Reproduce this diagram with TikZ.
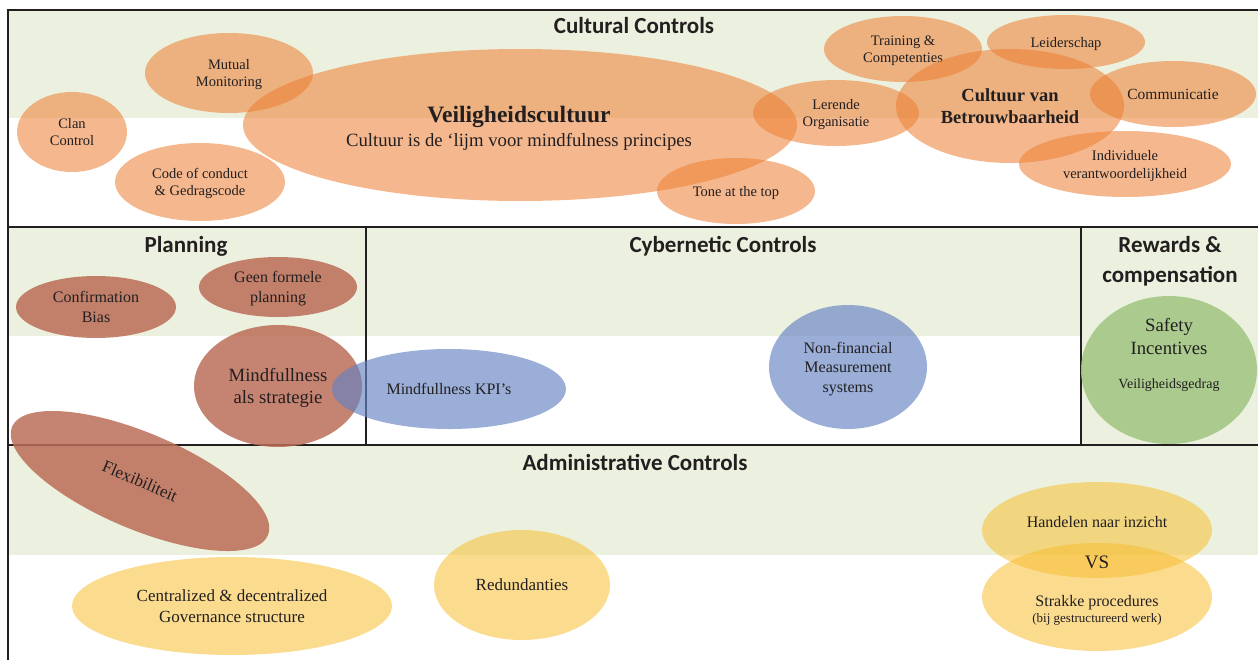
\documentclass[tikz,border=0pt]{standalone}
\usepackage{fontspec}
\setmainfont{Liberation Serif}
\newfontfamily\titlefont{Carlito}
\usetikzlibrary{shapes.geometric}
\definecolor{band}{RGB}{235,241,222}
\definecolor{framec}{RGB}{35,31,32}
\definecolor{txt}{RGB}{35,31,32}
\definecolor{orng}{RGB}{237,125,49}
\definecolor{brwn}{RGB}{187,109,88}
\definecolor{blu}{RGB}{100,130,195}
\definecolor{grn}{RGB}{163,198,134}
\definecolor{yel}{RGB}{247,190,50}
\tikzset{
  frameline/.style={draw=framec, line width=2.7pt},
  ell/.style={ellipse, inner sep=0pt, text=txt, align=center, text opacity=1, text depth=-7pt},
  cult/.style={ell, fill=orng, fill opacity=0.55, font=\fontsize{14.5}{17}\selectfont},
  plan/.style={ell, fill=brwn, fill opacity=0.85, font=\fontsize{16}{19.5}\selectfont},
  cyb/.style={ell, fill=blu, fill opacity=0.65, font=\fontsize{16}{19.5}\selectfont},
  rew/.style={ell, fill=grn, fill opacity=0.9},
  adm/.style={ell, fill=yel, fill opacity=0.55, font=\fontsize{17}{21}\selectfont},
  lbl/.style={text=txt, inner sep=0pt, anchor=base, align=center},
  title/.style={lbl, font=\titlefont\bfseries\fontsize{23}{30}\selectfont}
}
\begin{document}
\begin{tikzpicture}[x=1pt,y=-1pt]
\useasboundingbox (0,0) rectangle (1258,659);
\begin{scope}
\clip (0,0) rectangle (1258,659);
% green bands
\fill[band] (8,10) rectangle (1260,118);
\fill[band] (8,227) rectangle (1260,336);
\fill[band] (1081,227) rectangle (1260,445);
\fill[band] (8,445) rectangle (1260,555);
% frame
\draw[frameline] (8,662) -- (8,10) -- (1262,10);
\draw[frameline] (8,227) -- (1262,227);
\draw[frameline] (8,445) -- (1262,445);
\draw[frameline] (366,227) -- (366,445);
\draw[frameline] (1081,227) -- (1081,445);

% titles
\node[title] (tcult) at (634,33) {Cultural Controls};
\node[title] (tplan) at (186,252) {Planning};
\node[title] (tcyb) at (723,252) {Cybernetic Controls};
\node[title] (trew1) at (1170,252) {Rewards \&};
\node[title] (trew2) at (1170,282) {compensation};
\node[title] (tadm) at (635,470) {Administrative Controls};

% cultural controls
\node[cult, minimum width=554, minimum height=152] (veil) at (520,125) {};
\node[lbl, font=\bfseries\fontsize{23.5}{26}\selectfont] (veilT) at (519,122) {Veiligheidscultuur};
\node[lbl, font=\fontsize{18.7}{26}\selectfont] (veilS) at (519,146) {Cultuur is de ‘lijm voor mindfulness principes};
\node[cult, minimum width=168, minimum height=80] (mutual) at (229,73) {Mutual\\Monitoring};
\node[cult, minimum width=110, minimum height=80] (clan) at (72,132) {Clan\\Control};
\node[cult, minimum width=170, minimum height=78] (code) at (200,182) {Code of conduct\\\& Gedragscode};
\node[cult, minimum width=158, minimum height=66] (tone) at (736,191) {Tone at the top};
\node[cult, minimum width=166, minimum height=66] (lerende) at (836,113) {Lerende\\Organisatie};
\node[cult, minimum width=158, minimum height=66] (training) at (903,49) {Training \&\\Competenties};
\node[cult, minimum width=158, minimum height=54] (leider) at (1066,42) {Leiderschap};
\node[cult, minimum width=228, minimum height=114, font=\bfseries\fontsize{18.5}{22}\selectfont] (betrouw) at (1010,106) {Cultuur van\\Betrouwbaarheid};
\node[cult, minimum width=166, minimum height=66, font=\fontsize{15.5}{18}\selectfont] (comm) at (1173,94) {Communicatie};
\node[cult, minimum width=212, minimum height=66, font=\fontsize{14.5}{18}\selectfont] (indiv) at (1125,164) {Individuele\\verantwoordelijkheid};

% planning
\node[plan, minimum width=160, minimum height=62] (confirm) at (96,307) {Confirmation\\Bias};
\node[plan, minimum width=158, minimum height=60] (geen) at (278,287) {Geen formele\\planning};
\node[plan, minimum width=278, minimum height=96, rotate=-23, font=\fontsize{17}{20}\selectfont] (flex) at (140,481) {Flexibiliteit};
\node[plan, minimum width=168, minimum height=122, font=\fontsize{18.7}{22.5}\selectfont] (mindstrat) at (278,386) {Mindfullness\\als strategie};

% cybernetic
\node[cyb, minimum width=234, minimum height=80] (kpi) at (449,389) {Mindfullness KPI’s};
\node[cyb, minimum width=158, minimum height=124] (nonfin) at (848,367) {Non-financial\\Measurement\\systems};

% rewards
\node[rew, minimum width=176, minimum height=148] (safety) at (1169,370) {};
\node[lbl, font=\fontsize{18.7}{23}\selectfont] (safetyT) at (1169,354) {Safety\\Incentives};
\node[lbl, font=\fontsize{14}{17}\selectfont] (safetyS) at (1169,388) {Veiligheidsgedrag};

% administrative
\node[adm, minimum width=320, minimum height=98] (central) at (232,606) {Centralized \& decentralized\\Governance structure};
\node[adm, minimum width=176, minimum height=110] (redund) at (522,585) {Redundanties};
\node[adm, minimum width=230, minimum height=96] (handelen) at (1097,530) {};
\node[adm, minimum width=230, minimum height=108] (strakke) at (1097,597) {};
\node[lbl, font=\fontsize{16}{19}\selectfont] (handelenT) at (1097,527) {Handelen naar inzicht};
\node[lbl, font=\fontsize{19}{22}\selectfont] (vs) at (1097,568) {VS};
\node[lbl, font=\fontsize{16}{19}\selectfont] (strakkeT) at (1097,606) {Strakke procedures};
\node[lbl, font=\fontsize{13}{16}\selectfont] (strakkeS) at (1097,622) {(bij gestructureerd werk)};
\end{scope}
\end{tikzpicture}
\end{document}
